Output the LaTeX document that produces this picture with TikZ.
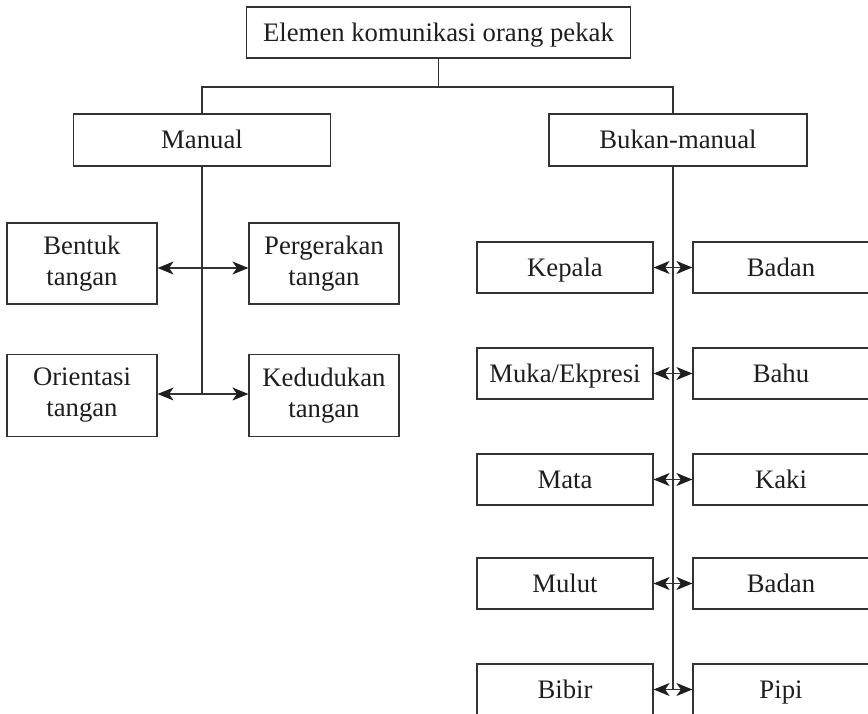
\documentclass[tikz,border=0pt]{standalone}
\usepackage{fontspec}
\setmainfont{Liberation Serif}
\usetikzlibrary{arrows.meta}
\definecolor{ln}{HTML}{333333}
\definecolor{tx}{HTML}{1E1E1E}
\tikzset{tipstyle/.tip={Stealth[length=16pt,width=13pt,inset=4.5pt,fill=tx,color=tx]}}
\begin{document}
\begin{tikzpicture}[x=1pt,y=-1pt,
  box/.style={draw=ln,line width=1.2pt,rectangle,inner sep=0pt,text=tx,
    font=\fontsize{26.7}{31}\selectfont,align=center},
  one/.style={text height=21pt,text depth=3pt},
  conn/.style={draw=ln,line width=1.2pt},
  arr/.style={conn,-tipstyle}]
\useasboundingbox (0,0) rectangle (868,714);
\clip (0,0) rectangle (868,714);
% top
\node[box,one,minimum width=384pt,minimum height=51pt] (top) at (438.5,32.5) {Elemen komunikasi orang pekak};
\node[box,one,minimum width=257pt,minimum height=52pt] (man) at (202,140) {Manual};
\node[box,one,minimum width=258pt,minimum height=52pt] (buk) at (678,140) {Bukan-manual};
\coordinate (j) at (438.5,87);
\coordinate (jl) at (202,87);
\coordinate (jr) at (673,87);
\draw[conn] (top.south) -- (j);
\draw[conn] (man.north) -- (jl) -- (jr) -- (jr |- buk.north);
% left group
\node[box,minimum width=150pt,minimum height=81pt] (bentuk) at (82,263.5) {Bentuk\\tangan};
\node[box,minimum width=150pt,minimum height=81pt] (gerak) at (324,263.5) {Pergerakan\\tangan};
\node[box,minimum width=150pt,minimum height=82pt] (orient) at (82,395.5) {Orientasi\\tangan};
\node[box,minimum width=150pt,minimum height=82pt] (duduk) at (324,395.5) {Kedudukan\\tangan};
\coordinate (m1) at (202,268);
\coordinate (m2) at (202,394);
\draw[conn] (man.south) -- (m2);
\draw[arr] (m1) -- (m1 -| bentuk.east);
\draw[arr] (m1) -- (m1 -| gerak.west);
\draw[arr] (m2) -- (m2 -| orient.east);
\draw[arr] (m2) -- (m2 -| duduk.west);
% right group
\foreach \n/\a/\b/\y in {1/Kepala/Badan/267.5,2/Muka\slash Ekpresi/Bahu/373.5,3/Mata/Kaki/479.5,4/Mulut/Badan/583.5,5/Bibir/Pipi/689.5}{
  \node[box,one,minimum width=176pt,minimum height=51pt] (l\n) at (565,\y) {\a};
  \node[box,one,minimum width=176pt,minimum height=51pt] (r\n) at (781,\y) {\b};
  \coordinate (c\n) at (673,\y);
  \draw[arr] (c\n) -- (l\n.east);
  \draw[arr] (c\n) -- (r\n.west);
}
\draw[conn] (jr |- buk.south) -- (c5);
\end{tikzpicture}
\end{document}
